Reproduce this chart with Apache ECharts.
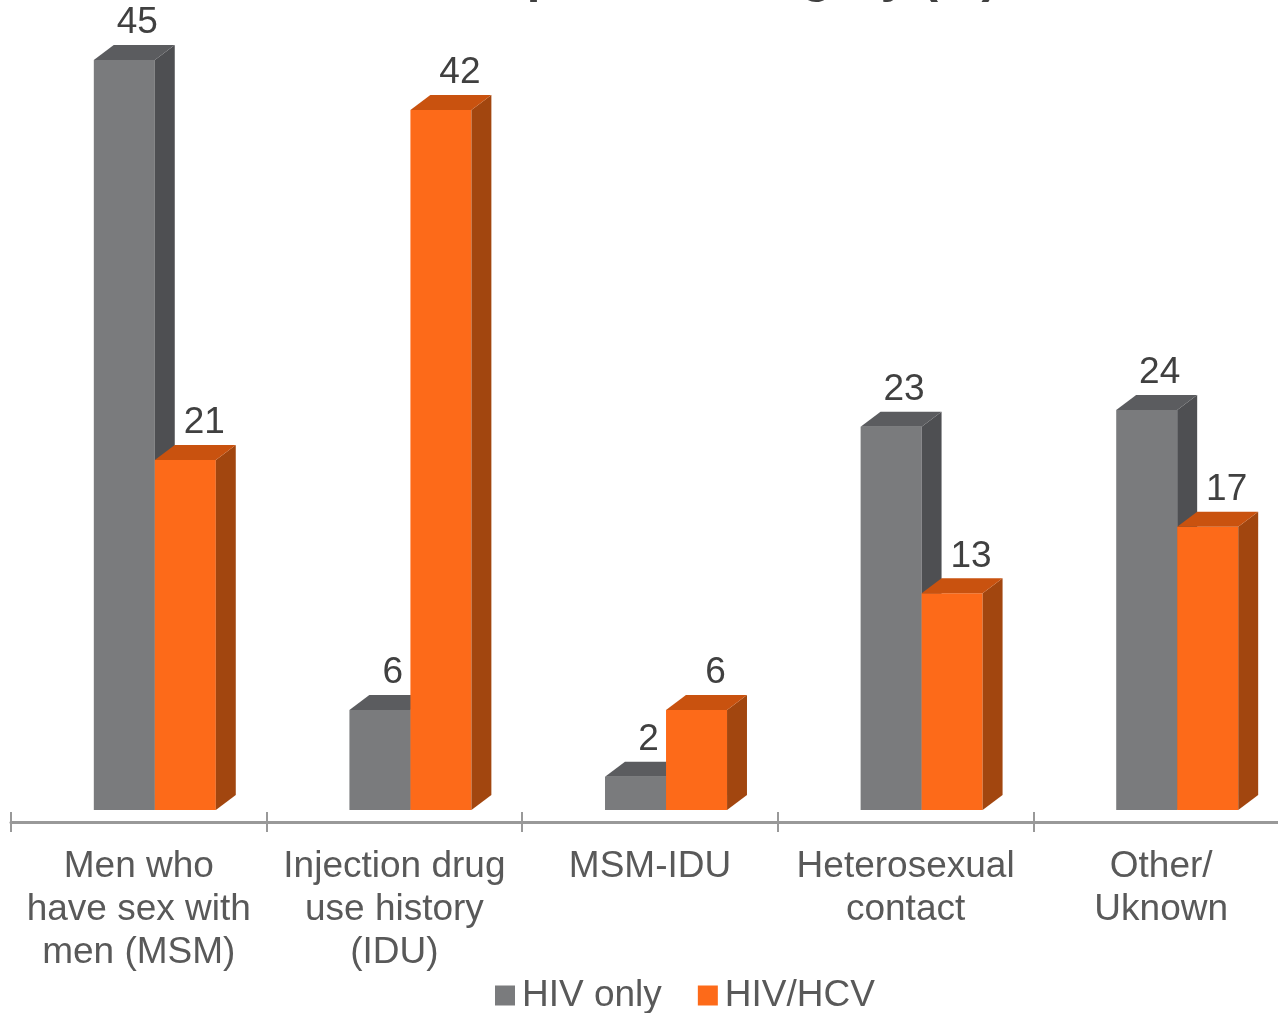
<!DOCTYPE html>
<html>
<head>
<meta charset="utf-8">
<script src="https://cdn.jsdelivr.net/npm/echarts@6/dist/echarts.min.js"></script>
<style>html,body{margin:0;padding:0;background:#fff;overflow:hidden;}#c{width:1300px;height:1013px;}</style>
</head>
<body>
<div id="c"></div>
<script>
const categories = ["Men who\nhave sex with\nmen (MSM)", "Injection drug\nuse history\n(IDU)", "MSM-IDU", "Heterosexual\ncontact", "Other/\nUknown"];
const hivOnly = [45, 6, 2, 23, 24];
const hivHcv = [21, 42, 6, 13, 17];
const seriesNames = ["HIV only", "HIV/HCV"];

const FONT = "'Liberation Sans', Arial, sans-serif";
const palettes = [
  {front: '#7a7b7d', side: '#4e4f52', top: '#5b5c5f'},
  {front: '#fd6a19', side: '#a2460f', top: '#c9520f'}
];

function makeRender(s) {
  return function (params, api) {
    const i = api.value(0), v = api.value(1);
    const base = api.coord([i, 0]);
    const tp = api.coord([i, v]);
    const band = api.size([1, 0])[0];
    const w = band * 0.2387;
    const x0 = base[0] - band * 0.176 + s * w;
    const dx = band * 0.078, dy = 15;
    const p = palettes[s];
    const yb = base[1], yt = tp[1];
    return {
      type: 'group',
      children: [
        {type: 'rect', shape: {x: x0, y: yt, width: w, height: yb - yt}, style: {fill: p.front}},
        {type: 'polygon', shape: {points: [[x0 + w, yt], [x0 + w + dx, yt - dy], [x0 + w + dx, yb - dy], [x0 + w, yb]]}, style: {fill: p.side}},
        {type: 'polygon', shape: {points: [[x0, yt], [x0 + dx, yt - dy], [x0 + w + dx, yt - dy], [x0 + w, yt]]}, style: {fill: p.top}},
        {type: 'text', style: {text: String(v), x: x0 + w / 2 + dx / 2 + 3 + s * 6, y: yt - dy - 22, align: 'center', verticalAlign: 'middle', fill: '#404040', font: '37px ' + FONT}}
      ]
    };
  };
}

const chart = echarts.init(document.getElementById('c'));
chart.setOption({
  backgroundColor: '#fff',
  animation: false,
  title: {
    text: 'HIV exposure category (%)',
    left: 372, top: -51,
    textStyle: {fontFamily: FONT, fontSize: 49, fontWeight: 'bold', color: '#404040'}
  },
  legend: {
    data: seriesNames.map((n, k) => ({name: n, itemStyle: {color: palettes[k].front}})),
    left: 495, top: 977, padding: 0,
    icon: 'rect', itemWidth: 20, itemHeight: 20, itemGap: 36,
    textStyle: {fontFamily: FONT, fontSize: 37, color: '#595959', padding: [0, 0, 0, 2]}
  },
  grid: {left: 11, top: 60, width: 1278, height: 750, containLabel: false},
  xAxis: [{
    type: 'category', data: categories, boundaryGap: true, offset: 12,
    axisLine: {show: true, onZero: false, lineStyle: {color: '#999999', width: 3}},
    axisTick: {show: false},
    axisLabel: {interval: 0, margin: 23, fontFamily: FONT, fontSize: 37, lineHeight: 43, color: '#595959'}
  }, {
    type: 'category', data: categories, boundaryGap: true, offset: 2, position: 'bottom',
    axisLine: {show: false, onZero: false},
    axisTick: {show: true, length: 20, lineStyle: {color: '#999999', width: 2}},
    axisLabel: {show: false}
  }],
  yAxis: {type: 'value', min: 0, max: 45, show: false, splitLine: {show: false}},
  series: [hivOnly, hivHcv].map((arr, s) => ({
    type: 'custom',
    name: seriesNames[s],
    itemStyle: {color: palettes[s].front},
    renderItem: makeRender(s),
    encode: {x: 0, y: 1},
    clip: false,
    data: arr.map((v, i) => [i, v])
  }))
});
</script>
</body>
</html>
